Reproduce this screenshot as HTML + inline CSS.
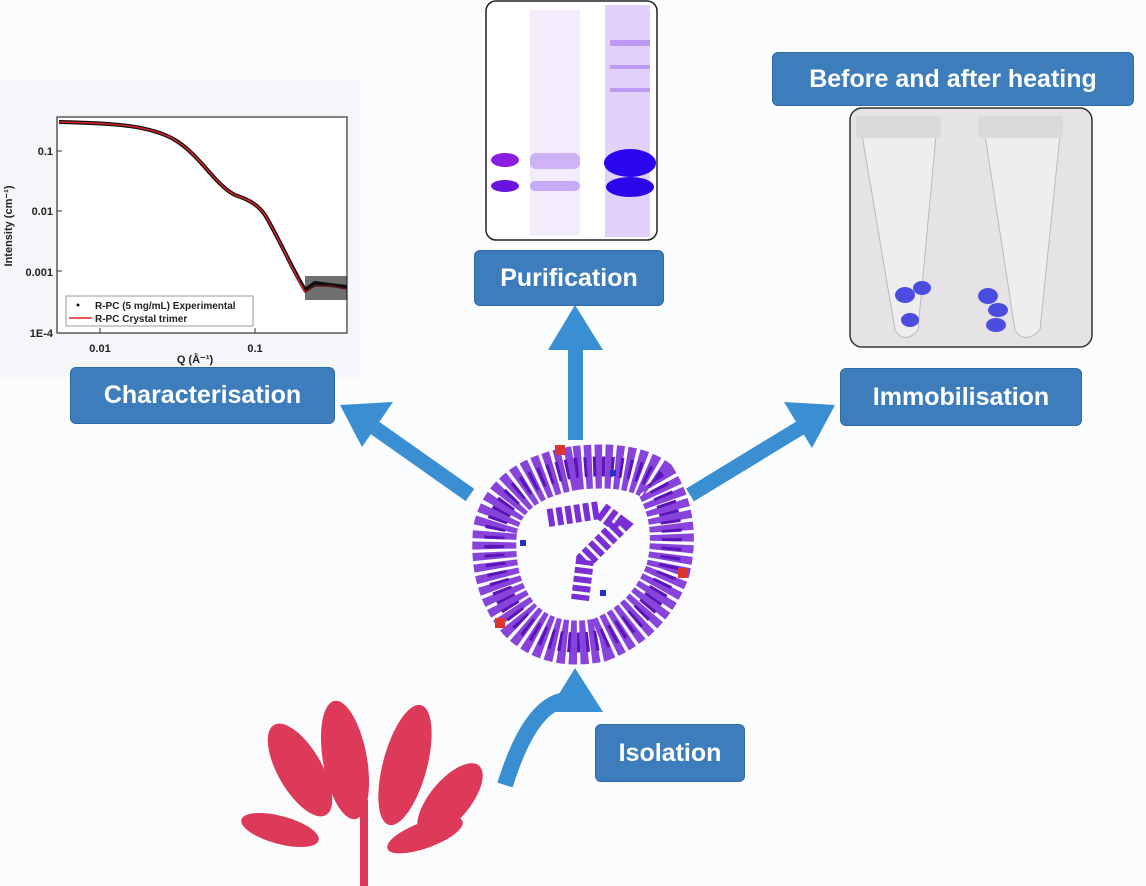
<!DOCTYPE html>
<html><head><meta charset="utf-8"><style>
body{margin:0;background:#fbfcfe;}
.b{position:absolute;background:#3d7dbb;color:#fff;font:bold 25px "Liberation Sans",sans-serif;display:flex;align-items:center;justify-content:center;border-radius:6px;border:1px solid #2f6aa3;white-space:nowrap;}
</style></head><body>
<div style="position:relative;width:1146px;height:886px;overflow:hidden;">
<svg width="1146" height="886" style="position:absolute;left:0;top:0" font-family="Liberation Sans,sans-serif">
<rect x="0" y="80" width="360" height="297" fill="#f4f6f9"/>
<!-- plot -->
<rect x="57" y="117" width="290" height="216" fill="#fff" stroke="#333" stroke-width="1.2"/>
<g font-size="11" font-weight="bold" fill="#222" text-anchor="end">
<text x="53" y="155">0.1</text><text x="53" y="215">0.01</text><text x="53" y="276">0.001</text><text x="53" y="337">1E-4</text></g>
<g font-size="11" font-weight="bold" fill="#222" text-anchor="middle">
<text x="100" y="352">0.01</text><text x="255" y="352">0.1</text><text x="195" y="363">Q (Å⁻¹)</text></g>
<text x="12" y="226" font-size="11" font-weight="bold" fill="#222" transform="rotate(-90 12 226)" text-anchor="middle">Intensity (cm⁻¹)</text>
<g stroke="#333"><line x1="57" y1="151" x2="62" y2="151"/><line x1="57" y1="211" x2="62" y2="211"/><line x1="57" y1="271" x2="62" y2="271"/><line x1="100" y1="333" x2="100" y2="328"/><line x1="255" y1="333" x2="255" y2="328"/></g>
<path d="M59,122 C110,123 150,125 175,140 C200,155 215,185 235,195 C250,200 258,205 265,215 C280,240 290,265 305,290 L315,283 L330,285 L347,287" fill="none" stroke="#111" stroke-width="4"/>
<path d="M59,122 C110,123 150,125 175,140 C200,155 215,185 235,195 C250,200 258,205 265,215 C280,240 290,265 305,292 L315,286 L330,286 L347,289" fill="none" stroke="#d22" stroke-width="1.5"/>
<g fill="#111" opacity="0.6"><rect x="305" y="276" width="42" height="24"/></g>
<rect x="66" y="296" width="187" height="30" fill="#fff" stroke="#999"/>
<circle cx="78" cy="305" r="1.5" fill="#111"/><line x1="69" y1="318" x2="92" y2="318" stroke="#d22" stroke-width="1.5"/>
<text x="95" y="309" font-size="10" font-weight="bold" fill="#222">R-PC (5 mg/mL) Experimental</text>
<text x="95" y="322" font-size="10" font-weight="bold" fill="#222">R-PC Crystal trimer</text>
<!-- gel -->
<rect x="486" y="1" width="171" height="239" rx="10" fill="#fff" stroke="#222" stroke-width="1.5"/>
<rect x="530" y="10" width="50" height="225" fill="#f3ecfd"/>
<rect x="605" y="5" width="45" height="232" fill="#e2d2fb"/>
<g fill="#9e64f0" opacity="0.5"><rect x="610" y="65" width="40" height="4"/><rect x="610" y="88" width="40" height="4"/><rect x="610" y="40" width="40" height="6"/></g>
<ellipse cx="505" cy="160" rx="14" ry="7" fill="#8a1ee0"/><ellipse cx="505" cy="186" rx="14" ry="6" fill="#6a12e0"/>
<rect x="530" y="153" width="50" height="16" rx="6" fill="#cdb3f5"/><rect x="530" y="181" width="50" height="10" rx="5" fill="#c7aaf5"/>
<ellipse cx="630" cy="163" rx="26" ry="14" fill="#2a05f0"/><ellipse cx="630" cy="187" rx="24" ry="10" fill="#2c05e8"/>
<!-- tubes -->
<rect x="850" y="108" width="242" height="239" rx="12" fill="#e6e3e6" stroke="#333" stroke-width="1.5"/>
<path d="M862,135 L936,135 L918,330 Q905,345 895,330 Z" fill="#eeeeee" stroke="#bbb"/>
<path d="M985,135 L1060,135 L1040,330 Q1025,345 1015,330 Z" fill="#eeeeee" stroke="#bbb"/>
<rect x="856" y="116" width="85" height="22" rx="3" fill="#dadada"/><rect x="978" y="116" width="85" height="22" rx="3" fill="#dadada"/>
<g fill="#4a4de0"><ellipse cx="905" cy="295" rx="10" ry="8"/><ellipse cx="922" cy="288" rx="9" ry="7"/><ellipse cx="910" cy="320" rx="9" ry="7"/><ellipse cx="988" cy="296" rx="10" ry="8"/><ellipse cx="998" cy="310" rx="10" ry="7"/><ellipse cx="996" cy="325" rx="10" ry="7"/></g>
<!-- arrows -->
<g fill="#3a8fd2" stroke="none">
<rect x="568" y="345" width="15" height="95"/><polygon points="548,350 603,350 575,305"/>
<line x1="470" y1="495" x2="375" y2="428" stroke="#3a8fd2" stroke-width="15"/><polygon points="340,405 393,402 362,447"/>
<line x1="690" y1="495" x2="800" y2="428" stroke="#3a8fd2" stroke-width="15"/><polygon points="835,405 784,402 812,448"/>
<path d="M505,785 Q530,705 565,700" fill="none" stroke="#3a8fd2" stroke-width="16"/><polygon points="575,668 548,712 603,712"/>
</g>
<!-- protein: ring of helices -->
<path d="M575,468 Q630,462 655,480 Q680,520 668,570 Q650,620 600,640 Q550,650 520,620 Q490,585 495,530 Q505,480 575,468 Z" fill="none" stroke="#7a2fd6" stroke-width="44" stroke-dasharray="7 3" opacity="0.9"/>
<path d="M575,468 Q630,462 655,480 Q680,520 668,570 Q650,620 600,640 Q550,650 520,620 Q490,585 495,530 Q505,480 575,468 Z" fill="none" stroke="#5b14b8" stroke-width="20" stroke-dasharray="3 6"/>
<path d="M548,518 L600,510 L620,525 L585,560 L580,600" fill="none" stroke="#7a2fd6" stroke-width="18" stroke-dasharray="6 3"/>
<g fill="#d33"><rect x="555" y="445" width="10" height="10"/><rect x="678" y="568" width="10" height="10"/><rect x="495" y="618" width="10" height="10"/></g>
<g fill="#2233cc"><rect x="520" y="540" width="6" height="6"/><rect x="610" y="470" width="6" height="6"/><rect x="600" y="590" width="6" height="6"/></g>
<!-- seaweed -->
<g fill="#dc3a58">
<ellipse cx="300" cy="770" rx="22" ry="52" transform="rotate(-30 300 770)"/>
<ellipse cx="345" cy="760" rx="22" ry="60" transform="rotate(-10 345 760)"/>
<ellipse cx="405" cy="765" rx="22" ry="62" transform="rotate(15 405 765)"/>
<ellipse cx="450" cy="800" rx="20" ry="45" transform="rotate(40 450 800)"/>
<ellipse cx="280" cy="830" rx="40" ry="14" transform="rotate(15 280 830)"/>
<ellipse cx="425" cy="835" rx="40" ry="13" transform="rotate(-20 425 835)"/>
<rect x="360" y="800" width="8" height="86"/>
</g>
</svg>
<div class="b" style="left:772px;top:52px;width:360px;height:52px;">Before and after heating</div>
<div class="b" style="left:70px;top:367px;width:263px;height:55px;">Characterisation</div>
<div class="b" style="left:474px;top:250px;width:188px;height:54px;">Purification</div>
<div class="b" style="left:840px;top:368px;width:240px;height:56px;">Immobilisation</div>
<div class="b" style="left:595px;top:724px;width:148px;height:56px;">Isolation</div>
</div>
</body></html>
